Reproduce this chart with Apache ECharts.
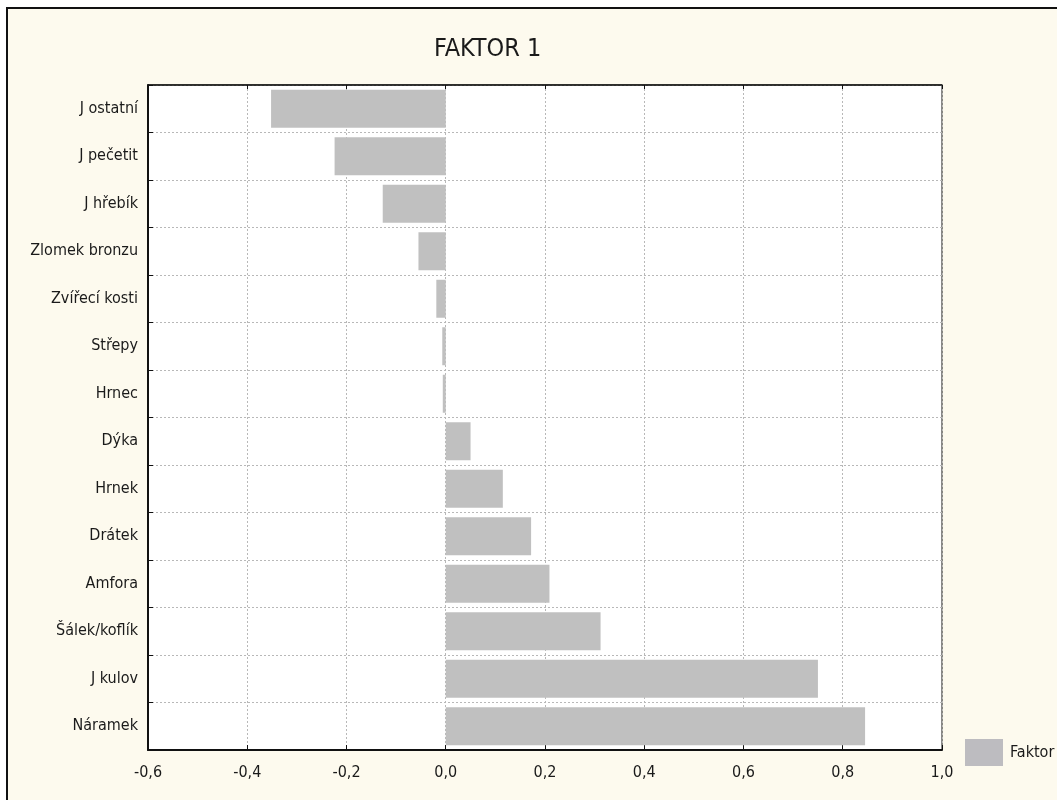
<!DOCTYPE html>
<html>
<head>
<meta charset="utf-8">
<script src="https://cdn.jsdelivr.net/npm/echarts@6/dist/echarts.min.js"></script>
<style>
    body { margin: 0; background: #fff; overflow: hidden; }
    #frame {
        position: absolute; left: 6px; top: 7px; width: 1100px; height: 820px;
        border: 2px solid #111; border-bottom: none; border-right: none; background: #fdfaee;
    }
    #chart { position: absolute; left: 0; top: 0; width: 1057px; height: 800px; }
</style>
</head>
<body>
<div id="frame"></div>
<div id="chart"></div>
<script>
    // nazvy promennych (shora dolu)
    var categories = ['J ostatní', 'J pečetit', 'J hřebík', 'Zlomek bronzu', 'Zvířecí kosti', 'Střepy', 'Hrnec',
        'Dýka', 'Hrnek', 'Drátek', 'Amfora', 'Šálek/koflík', 'J kulov', 'Náramek'];
    // faktorove zateze
    var faktor = [-0.352, -0.224, -0.127, -0.055, -0.019, -0.007, -0.006,
        0.050, 0.115, 0.172, 0.209, 0.312, 0.750, 0.845];
    var xTicks = {min: -0.6, max: 1.0, step: 0.2};

    var font = '"DejaVu Sans Condensed", "Liberation Sans Narrow", "Liberation Sans", sans-serif';
    var myChart = echarts.init(document.getElementById('chart'), null, {renderer: 'canvas'});
    var option = {
        backgroundColor: 'transparent',
        animation: false,
        title: {
            text: 'FAKTOR 1',
            left: 429,
            top: 32,
            textStyle: {fontFamily: font, fontSize: 25, fontWeight: 'normal', color: '#1a1a1a'}
        },
        legend: {
            left: 960,
            top: 734,
            icon: 'rect',
            itemWidth: 38,
            itemHeight: 27,
            itemGap: 6,
            data: ['Faktor'],
            itemStyle: {color: '#bdbcc0'},
            textStyle: {fontFamily: font, fontSize: 16, color: '#1a1a1a', padding: [0, 0, 0, 2]}
        },
        grid: {
            left: 148,
            right: 1057 - 942,
            top: 85,
            bottom: 800 - 750,
            show: true,
            backgroundColor: '#fff',
            borderColor: '#111',
            borderWidth: 1
        },
        xAxis: [{
            type: 'value',
            min: xTicks.min,
            max: xTicks.max,
            interval: xTicks.step,
            axisLine: {show: true, onZero: false, lineStyle: {color: '#111', width: 2}},
            axisTick: {show: true, inside: true, length: 5, lineStyle: {color: '#111'}},
            axisLabel: {
                margin: 15,
                fontFamily: font,
                fontSize: 16,
                color: '#1a1a1a',
                formatter: function (v)
                {
                    return v.toFixed(1).replace('.', ',');
                }
            },
            splitLine: {show: true, lineStyle: {color: '#b8b8b8', type: [2, 2], width: 1}}
        }, {
            type: 'value',
            position: 'top',
            min: xTicks.min,
            max: xTicks.max,
            interval: xTicks.step,
            axisLine: {show: true, onZero: false, lineStyle: {color: '#111', width: 1.5}},
            axisTick: {show: true, inside: true, length: 4, lineStyle: {color: '#111'}},
            axisLabel: {show: false},
            splitLine: {show: false}
        }],
        yAxis: {
            type: 'category',
            inverse: true,
            data: categories,
            axisLine: {show: true, onZero: false, lineStyle: {color: '#111', width: 2}},
            axisTick: {show: true, inside: true, length: 5, lineStyle: {color: '#111'}},
            axisLabel: {margin: 10, fontFamily: font, fontSize: 16, color: '#1a1a1a'},
            splitLine: {show: true, lineStyle: {color: '#b8b8b8', type: [2, 2], width: 1}}
        },
        series: [
            {
                name: 'Faktor',
                type: 'bar',
                data: faktor,
                barCategoryGap: '20%',
                itemStyle: {color: '#c0c0c0'}
            }
        ]
    };
    myChart.setOption(option);
</script>
</body>
</html>
